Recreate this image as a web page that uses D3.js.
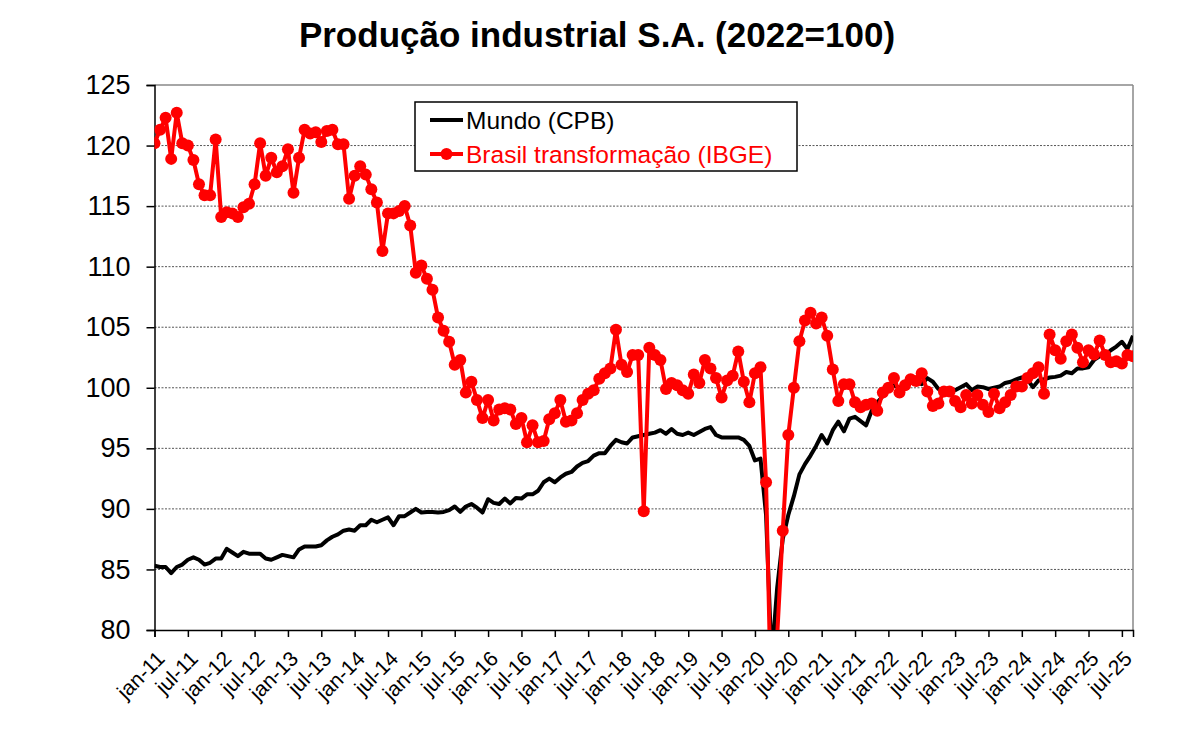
<!DOCTYPE html>
<html><head><meta charset="utf-8">
<script src="https://cdn.jsdelivr.net/npm/d3@7"></script>
<style>
html,body{margin:0;padding:0;background:#fff;}
svg{display:block;font-family:"Liberation Sans",Arial,sans-serif;}
</style></head>
<body>
<svg id="chart" width="1200" height="747"></svg>
<script>
// ---- DATA ----
const monthNames = ["jan","fev","mar","abr","mai","jun","jul","ago","set","out","nov","dez"];
const firstYear = 2011, lastYear = 2025, lastMonthIndex = 8; // through set-25
const tickLabels = ["jan-11","jul-11","jan-12","jul-12","jan-13","jul-13","jan-14","jul-14","jan-15","jul-15",
  "jan-16","jul-16","jan-17","jul-17","jan-18","jul-18","jan-19","jul-19","jan-20","jul-20",
  "jan-21","jul-21","jan-22","jul-22","jan-23","jul-23","jan-24","jul-24","jan-25","jul-25"];
const yTicks = [80,85,90,95,100,105,110,115,120,125];

const mundo = [
  85.3,85.2,85.2,84.7,85.2,85.4,85.8,86.0,85.8,85.4,85.55,85.9,
  85.9,86.7,86.4,86.1,86.45,86.3,86.3,86.3,85.9,85.8,86.0,86.2,
  86.1,86.0,86.65,86.9,86.9,86.9,87.0,87.4,87.7,87.9,88.2,88.3,
  88.2,88.65,88.65,89.1,88.9,89.1,89.3,88.65,89.4,89.4,89.7,90.0,
  89.7,89.75,89.75,89.7,89.75,89.9,90.2,89.75,90.2,90.4,90.1,89.7,
  90.8,90.5,90.4,90.85,90.45,90.9,90.85,91.2,91.2,91.5,92.2,92.5,
  92.2,92.6,92.9,93.05,93.5,93.8,93.95,94.4,94.6,94.6,95.2,95.7,
  95.5,95.4,95.9,96.0,96.1,96.2,96.3,96.5,96.2,96.6,96.2,96.1,
  96.3,96.1,96.35,96.6,96.75,96.1,95.9,95.9,95.9,95.9,95.7,95.2,
  94.0,94.15,89.5,77.5,83.5,87.5,89.5,91.05,92.85,93.7,94.4,95.2,
  96.1,95.4,96.5,97.2,96.4,97.45,97.6,97.25,96.9,98.1,98.8,99.3,
  99.8,100.2,100.0,100.2,100.4,100.5,100.3,100.8,100.5,99.9,99.7,99.6,
  99.8,100.05,100.3,99.8,100.1,100.05,99.9,100.0,100.1,100.4,100.5,100.7,
  100.85,100.7,100.05,100.6,100.7,100.85,100.9,101.0,101.3,101.2,101.6,101.6,
  101.7,102.3,102.6,102.7,103.1,103.4,103.8,103.2,104.3
];
const brasil = [
  120.2,121.3,122.3,118.9,122.7,120.2,120.0,118.8,116.8,115.9,115.9,120.5,
  114.1,114.5,114.4,114.1,114.9,115.2,116.8,120.2,117.5,119.0,117.8,118.3,
  119.7,116.1,119.0,121.3,121.0,121.1,120.3,121.2,121.3,120.1,120.1,115.6,
  117.5,118.3,117.6,116.4,115.3,111.3,114.4,114.4,114.6,115.0,113.4,109.5,
  110.1,109.0,108.1,105.8,104.7,103.8,101.9,102.3,99.6,100.5,99.0,97.5,
  99.0,97.3,98.2,98.3,98.2,97.0,97.5,95.5,96.9,95.5,95.6,97.4,
  97.9,99.0,97.2,97.3,97.9,99.0,99.5,99.8,100.75,101.2,101.6,104.8,
  101.9,101.3,102.7,102.7,89.8,103.3,102.7,102.3,99.9,100.4,100.2,99.8,
  99.5,101.1,100.4,102.3,101.6,100.8,99.2,100.6,101.0,103.0,100.5,98.8,
  101.2,101.7,92.2,72.0,79.5,88.2,96.1,100.0,103.85,105.55,106.2,105.3,
  105.8,104.3,101.5,98.9,100.3,100.3,98.8,98.4,98.6,98.7,98.1,99.6,
  100.0,100.8,99.6,100.2,100.7,100.55,101.2,99.7,98.5,98.7,99.7,99.7,
  98.9,98.4,99.4,98.7,99.4,98.6,98.0,99.5,98.3,98.8,99.4,100.1,
  100.1,100.8,101.2,101.7,99.5,104.4,103.1,102.4,103.85,104.4,103.3,102.1,
  103.1,102.75,103.9,102.7,102.1,102.2,102.0,102.7,102.6
];
const titleText = "Produção industrial S.A. (2022=100)";
const legendLabels = ["Mundo (CPB)", "Brasil transformação (IBGE)"];

// ---- BUILD CATEGORIES ----
const months = [];
for (let y = firstYear; y <= lastYear; y++) {
  for (let m = 0; m < 12; m++) {
    if (y === lastYear && m > lastMonthIndex) break;
    months.push(monthNames[m] + "-" + String(y).slice(2));
  }
}

// ---- LAYOUT ----
const svg = d3.select("#chart");
const L = 154.5, R = 1133, T = 85, B = 630;
const x = d3.scalePoint().domain(months).range([L, R]).padding(0);
const y = d3.scaleLinear().domain([80, 125]).range([B, T]);

svg.append("defs").append("clipPath").attr("id","plotclip")
  .append("rect").attr("x", L).attr("y", T).attr("width", R - L).attr("height", B - T);

// title
svg.append("text").attr("x", 597).attr("y", 47).attr("text-anchor","middle")
  .attr("font-size", 35).attr("font-weight","bold").attr("fill","#000").text(titleText);

// gridlines
svg.append("g").selectAll("line").data(yTicks.filter(d => d > 80 && d < 125)).join("line")
  .attr("x1", L).attr("x2", R).attr("y1", d => y(d)).attr("y2", d => y(d))
  .attr("stroke", "#555").attr("stroke-width", 1).attr("stroke-dasharray", "2,1.5");

// plot border (top and right)
svg.append("line").attr("x1", L).attr("x2", R).attr("y1", T).attr("y2", T).attr("stroke","#888").attr("stroke-width",1.5);
svg.append("line").attr("x1", R).attr("x2", R).attr("y1", T).attr("y2", B).attr("stroke","#888").attr("stroke-width",1.5);

// y axis
const yAxis = d3.axisLeft(y).tickValues(yTicks).tickSize(8).tickPadding(16).tickFormat(d3.format("d"));
const gy = svg.append("g").attr("transform", `translate(${L},0)`).call(yAxis);
gy.select(".domain").attr("stroke","#000").attr("stroke-width",1.5);
gy.selectAll(".tick line").attr("stroke","#000").attr("stroke-width",1.5);
gy.selectAll(".tick text").attr("font-size", 27).attr("fill","#000")
  .attr("font-family", '"Liberation Sans",Arial,sans-serif');

// x axis
const xAxis = d3.axisBottom(x).tickValues(tickLabels).tickSize(7).tickFormat(d => d);
const gx = svg.append("g").attr("transform", `translate(0,${B})`).call(xAxis);
gx.select(".domain").attr("stroke","#000").attr("stroke-width",1.5);
gx.selectAll(".tick line").attr("stroke","#000").attr("stroke-width",1.5);
gx.selectAll(".tick text")
  .attr("font-size", 21).attr("fill","#000")
  .attr("font-family", '"Liberation Sans",Arial,sans-serif')
  .attr("text-anchor","end").attr("dy", null).attr("y", null)
  .attr("transform", "translate(11,30) rotate(-45)");

// series
const plot = svg.append("g").attr("clip-path","url(#plotclip)");
const lineGen = d3.line().x((d, i) => x(months[i])).y(d => y(d));

plot.append("path").datum(mundo).attr("d", lineGen)
  .attr("fill","none").attr("stroke","#000").attr("stroke-width",4).attr("stroke-linejoin","round");

plot.append("path").datum(brasil).attr("d", lineGen)
  .attr("fill","none").attr("stroke","#ff0000").attr("stroke-width",4).attr("stroke-linejoin","round");

plot.append("g").selectAll("circle").data(brasil).join("circle")
  .attr("cx", (d, i) => x(months[i])).attr("cy", d => y(d)).attr("r", 6)
  .attr("fill","#ff0000");

// legend
const lg = svg.append("g");
lg.append("rect").attr("x", 415).attr("y", 102).attr("width", 382).attr("height", 69)
  .attr("fill","#fff").attr("stroke","#000").attr("stroke-width",1.5);
lg.append("line").attr("x1", 430).attr("x2", 463).attr("y1", 120).attr("y2", 120)
  .attr("stroke","#000").attr("stroke-width",4);
lg.append("text").attr("x", 466).attr("y", 129).attr("font-size", 24.5).attr("fill","#000").text(legendLabels[0]);
lg.append("line").attr("x1", 430).attr("x2", 463).attr("y1", 154).attr("y2", 154)
  .attr("stroke","#ff0000").attr("stroke-width",4);
lg.append("circle").attr("cx", 446.5).attr("cy", 154).attr("r", 6).attr("fill","#ff0000");
lg.append("text").attr("x", 466).attr("y", 163).attr("font-size", 24.5).attr("fill","#ff0000").text(legendLabels[1]);
</script>
</body></html>
